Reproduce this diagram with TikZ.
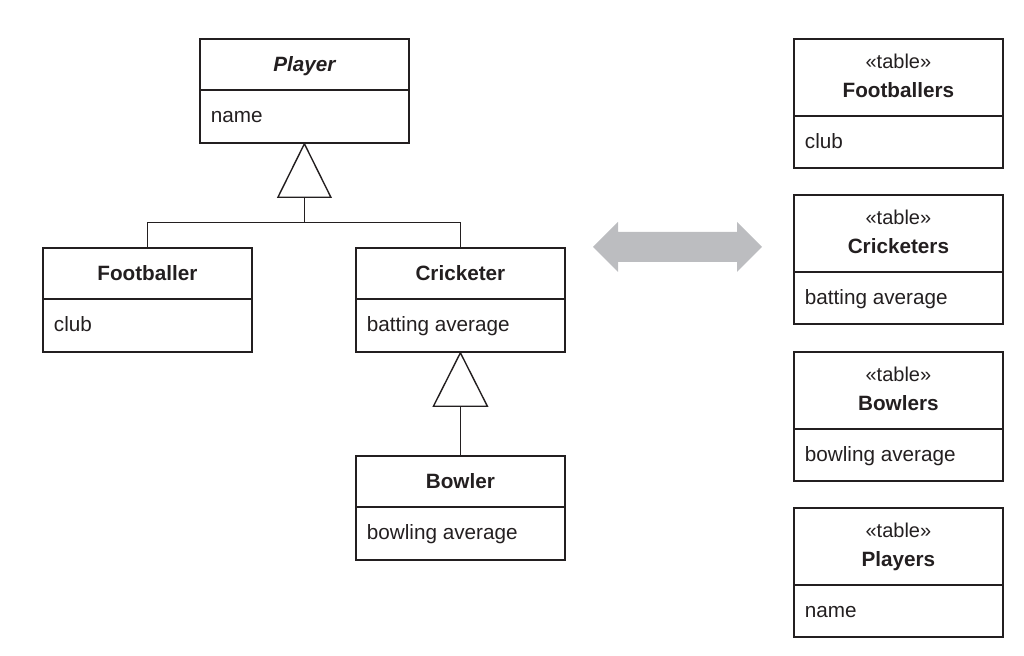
\documentclass[tikz,border=0pt]{standalone}
\usepackage{fontspec}
\setmainfont{Liberation Sans}
\usetikzlibrary{calc}
\definecolor{ink}{HTML}{231F20}
\definecolor{arrowgray}{HTML}{BCBDC0}
\begin{document}
\begin{tikzpicture}[x=0.5pt,y=-0.5pt,
 box/.style={draw=ink,line width=0.9pt,rectangle,anchor=north west,inner sep=0pt,minimum width=104.5pt},
 cls/.style={box,minimum height=52pt},
 tbl/.style={box,minimum height=64.5pt},
 txt/.style={inner sep=0pt,text=ink,font=\fontsize{10.35}{12.4}\selectfont},
 title/.style={txt,anchor=base,font=\fontsize{10.35}{12.4}\selectfont\bfseries},
 attr/.style={txt,anchor=base west},
 stereo/.style={txt,anchor=base,font=\fontsize{10}{12}\selectfont},
 divider/.style={draw=ink,line width=0.8pt},
 gen/.style={draw=ink,line width=0.7pt,line join=miter},
]
\useasboundingbox (0,0) rectangle (1024,656);

% ---------- class diagram ----------
\node[cls] (P) at (199,38) {};
\draw[divider] ([yshift=-26pt]P.north west) -- ([yshift=-26pt]P.north east);
\node[title,font=\fontsize{10.35}{12.4}\selectfont\bfseries\itshape] (Pt) at ($(P.north)+(0,33.5)$) {Player};
\node[attr] (Pa) at ($(P.north west)+(11.5,85)$) {name};

\node[cls] (F) at (42,247) {};
\draw[divider] ([yshift=-26pt]F.north west) -- ([yshift=-26pt]F.north east);
\node[title] (Ft) at ($(F.north)+(0,33.5)$) {Footballer};
\node[attr] (Fa) at ($(F.north west)+(11.5,84.5)$) {club};

\node[cls] (C) at (355,247) {};
\draw[divider] ([yshift=-26pt]C.north west) -- ([yshift=-26pt]C.north east);
\node[title] (Ct) at ($(C.north)+(0,33.5)$) {Cricketer};
\node[attr] (Ca) at ($(C.north west)+(11.5,84.5)$) {batting average};

\node[cls] (B) at (355,455) {};
\draw[divider] ([yshift=-26pt]B.north west) -- ([yshift=-26pt]B.north east);
\node[title] (Bt) at ($(B.north)+(0,33.5)$) {Bowler};
\node[attr] (Ba) at ($(B.north west)+(11.5,84.5)$) {bowling average};

% generalisations
\draw[gen] (P.south) -- ++(-26.5,53.5) -- ++(53,0) -- cycle;
\coordinate (g1) at ($(P.south)+(0,53.5)$);
\coordinate (j1) at ($(P.south)+(0,79)$);
\draw[gen] (g1) -- (j1);
\draw[gen] (F.north) |- (j1) -| (C.north);

\draw[gen] (C.south) -- ++(-27,53.5) -- ++(54,0) -- cycle;
\coordinate (g2) at ($(C.south)+(0,53.5)$);
\draw[gen] (g2) -- (B.north);

% ---------- double arrow ----------
\fill[arrowgray] (593,247) -- (618,222) -- (618,232) -- (737,232) -- (737,222) -- (762,247)
  -- (737,272) -- (737,262) -- (618,262) -- (618,272) -- cycle;

% ---------- tables ----------
\node[tbl] (TF) at (793,38) {};
\draw[divider] ([yshift=-39pt]TF.north west) -- ([yshift=-39pt]TF.north east);
\node[stereo] (TFs) at ($(TF.north)+(0,30.5)$) {«table»};
\node[title] (TFt) at ($(TF.north)+(0,59.5)$) {Footballers};
\node[attr] (TFa) at ($(TF.north west)+(11.5,110.5)$) {club};

\node[tbl] (TC) at (793,194) {};
\draw[divider] ([yshift=-39pt]TC.north west) -- ([yshift=-39pt]TC.north east);
\node[stereo] (TCs) at ($(TC.north)+(0,30.5)$) {«table»};
\node[title] (TCt) at ($(TC.north)+(0,59.5)$) {Cricketers};
\node[attr] (TCa) at ($(TC.north west)+(11.5,110.5)$) {batting average};

\node[tbl] (TB) at (793,351) {};
\draw[divider] ([yshift=-39pt]TB.north west) -- ([yshift=-39pt]TB.north east);
\node[stereo] (TBs) at ($(TB.north)+(0,30.5)$) {«table»};
\node[title] (TBt) at ($(TB.north)+(0,59.5)$) {Bowlers};
\node[attr] (TBa) at ($(TB.north west)+(11.5,110.5)$) {bowling average};

\node[tbl] (TP) at (793,507) {};
\draw[divider] ([yshift=-39pt]TP.north west) -- ([yshift=-39pt]TP.north east);
\node[stereo] (TPs) at ($(TP.north)+(0,30.5)$) {«table»};
\node[title] (TPt) at ($(TP.north)+(0,59.5)$) {Players};
\node[attr] (TPa) at ($(TP.north west)+(11.5,110.5)$) {name};
\end{tikzpicture}
\end{document}
